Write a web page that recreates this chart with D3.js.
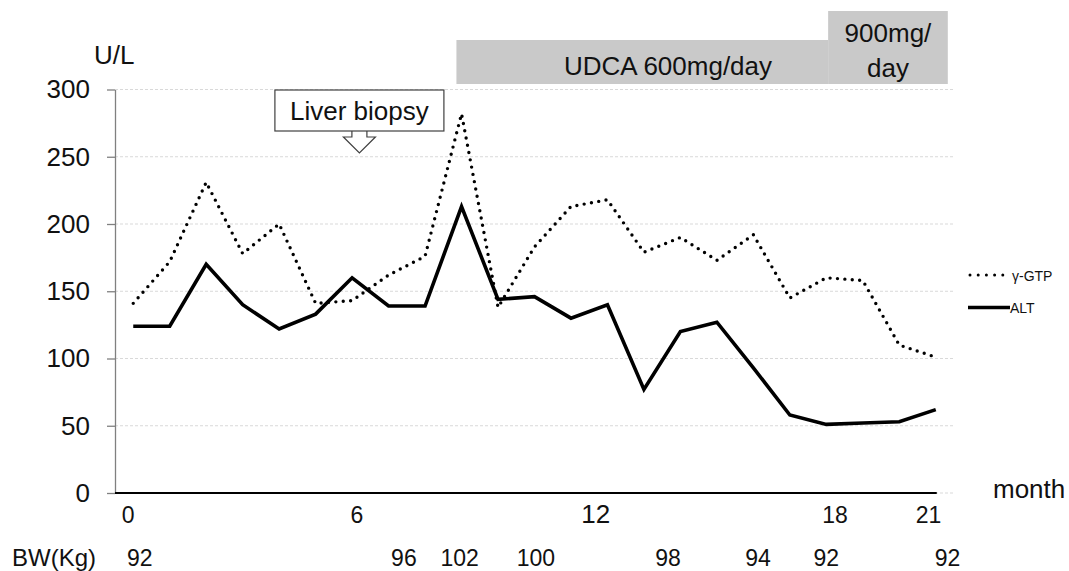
<!DOCTYPE html>
<html>
<head>
<meta charset="utf-8">
<script src="https://cdn.jsdelivr.net/npm/d3@7"></script>
<style>
  body { margin: 0; background: #fff; }
  svg { display: block; font-family: "Liberation Sans", Arial, sans-serif; }
</style>
</head>
<body>
<svg id="chart" width="1069" height="571"></svg>
<script>
// visit index (x categories)
const visits = [0,1,2,3,4,5,6,7,8,9,10,11,12,13,14,15,16,17,18,19,20,21,22];
const ggtp = [141,172,231,178,200,141,143,162,176,282,138,183,213,218,179,190,173,192,145,160,158,110,101];
const alt = [124,124,170,140,122,133,160,139,139,213,144,146,130,140,77,120,127,93,58,51,52,53,62];

const yTicks = [0,50,100,150,200,250,300];
// month labels, placed in visit-index units
const monthLabels = ["0","6","12","18","21"];
const monthAt = [-0.14,6.13,12.68,19.24,21.8];
// body weight row
const bwLabels = ["92","96","102","100","98","94","92","92"];
const bwAt = [0.18,7.42,8.95,11.04,14.66,17.13,19.0,22.32];
// treatment bars
const treatLabels = [["UDCA 600mg/day"],["900mg/","day"]];
const treatFrom = [8.86,19.05];
const treatTo = [19.05,22.33];
const biopsyAt = 6.2;

const svg = d3.select("#chart");
const plotL = 115, plotR = 954, plotT = 89.5, plotB = 493;

const x = d3.scaleLinear().domain([-0.5, visits.length - 0.5]).range([plotL, plotR]);
const y = d3.scaleLinear().domain([0, 300]).range([plotB, plotT]);

svg.append("rect").attr("width", 1069).attr("height", 571).attr("fill", "#fff");

// gridlines
svg.append("g")
  .selectAll("line")
  .data(yTicks)
  .join("line")
  .attr("x1", plotL).attr("x2", plotR)
  .attr("y1", d => y(d)).attr("y2", d => y(d))
  .attr("stroke", "#d9d9d9")
  .attr("stroke-dasharray", "3 2");

// treatment boxes
const treat = svg.append("g")
  .selectAll("g")
  .data(treatLabels)
  .join("g");
treat.append("rect")
  .attr("x", (d, i) => x(treatFrom[i]))
  .attr("width", (d, i) => x(treatTo[i]) - x(treatFrom[i]))
  .attr("y", (d, i) => i === 0 ? 40 : 11)
  .attr("height", (d, i) => i === 0 ? 44 : 73)
  .attr("fill", "#c9c9c9");
treat.each(function(d, i) {
  const cx = i === 0 ? 668 : (x(treatFrom[i]) + x(treatTo[i])) / 2;
  d3.select(this).selectAll("text")
    .data(d)
    .join("text")
    .attr("x", cx)
    .attr("y", (t, j) => i === 0 ? 75 : 42 + j * 35)
    .attr("text-anchor", "middle")
    .attr("font-size", 26)
    .attr("fill", "#111")
    .text(t => t);
});

// series
const line = d3.line().x((d, i) => x(visits[i])).y(d => y(d));

svg.append("path")
  .attr("d", line(ggtp))
  .attr("fill", "none")
  .attr("stroke", "#000")
  .attr("stroke-width", 3.4)
  .attr("stroke-linecap", "round")
  .attr("stroke-dasharray", "0 7.4");

svg.append("path")
  .attr("d", line(alt))
  .attr("fill", "none")
  .attr("stroke", "#000")
  .attr("stroke-width", 3.6)
  .attr("stroke-linejoin", "miter");

// y axis
const yAxis = svg.append("g")
  .attr("transform", `translate(${plotL},0)`)
  .call(d3.axisLeft(y).tickValues(yTicks).tickSize(8).tickPadding(17).tickSizeOuter(0));
yAxis.select(".domain").attr("stroke", "#808080").attr("stroke-width", 1.3);
yAxis.selectAll(".tick line").attr("stroke", "#808080").attr("stroke-width", 1.3);
yAxis.selectAll(".tick text")
  .attr("font-size", 26)
  .attr("font-family", "Liberation Sans, Arial, sans-serif")
  .attr("fill", "#111");

// x axis line
svg.append("line")
  .attr("x1", plotL).attr("x2", x(visits[visits.length - 1]) + 1)
  .attr("y1", plotB).attr("y2", plotB)
  .attr("stroke", "#000")
  .attr("stroke-width", 2);

svg.append("text")
  .attr("x", 94).attr("y", 64)
  .attr("font-size", 26).attr("fill", "#111")
  .text("U/L");

svg.append("text")
  .attr("x", 993).attr("y", 498)
  .attr("font-size", 26).attr("fill", "#111")
  .text("month");

svg.append("g")
  .selectAll("text")
  .data(monthLabels)
  .join("text")
  .attr("x", (d, i) => x(monthAt[i]))
  .attr("y", 523)
  .attr("text-anchor", "middle")
  .attr("font-size", d => d === "12" ? 26 : 23)
  .attr("fill", "#111")
  .text(d => d);

svg.append("text")
  .attr("x", 12).attr("y", 566)
  .attr("font-size", 24).attr("fill", "#111")
  .text("BW(Kg)");

svg.append("g")
  .selectAll("text")
  .data(bwLabels)
  .join("text")
  .attr("x", (d, i) => x(bwAt[i]))
  .attr("y", 566)
  .attr("text-anchor", "middle")
  .attr("font-size", 23)
  .attr("fill", "#111")
  .text(d => d);

// liver biopsy callout
const bx = x(biopsyAt);
svg.append("path")
  .attr("d", `M${bx - 7.5},130 V137 H${bx - 16} L${bx},153 L${bx + 16},137 H${bx + 7.5} V130`)
  .attr("fill", "#fff")
  .attr("stroke", "#404040")
  .attr("stroke-width", 1.2);
svg.append("rect")
  .attr("x", bx - 84.5).attr("y", 90)
  .attr("width", 169).attr("height", 41)
  .attr("fill", "#fff")
  .attr("stroke", "#404040")
  .attr("stroke-width", 1.2);
svg.append("text")
  .attr("x", bx).attr("y", 120)
  .attr("text-anchor", "middle")
  .attr("font-size", 26).attr("fill", "#111")
  .text("Liver biopsy");

// legend
const legend = svg.append("g").attr("font-size", 14).attr("fill", "#111");
legend.append("line")
  .attr("x1", 970).attr("x2", 1003).attr("y1", 275).attr("y2", 275)
  .attr("stroke", "#000").attr("stroke-width", 3)
  .attr("stroke-linecap", "round").attr("stroke-dasharray", "0 8.2");
legend.append("text").attr("x", 1012).attr("y", 281).text("γ-GTP");
legend.append("line")
  .attr("x1", 968).attr("x2", 1010).attr("y1", 307.5).attr("y2", 307.5)
  .attr("stroke", "#000").attr("stroke-width", 3.6);
legend.append("text").attr("x", 1010).attr("y", 313).text("ALT");
</script>
</body>
</html>
